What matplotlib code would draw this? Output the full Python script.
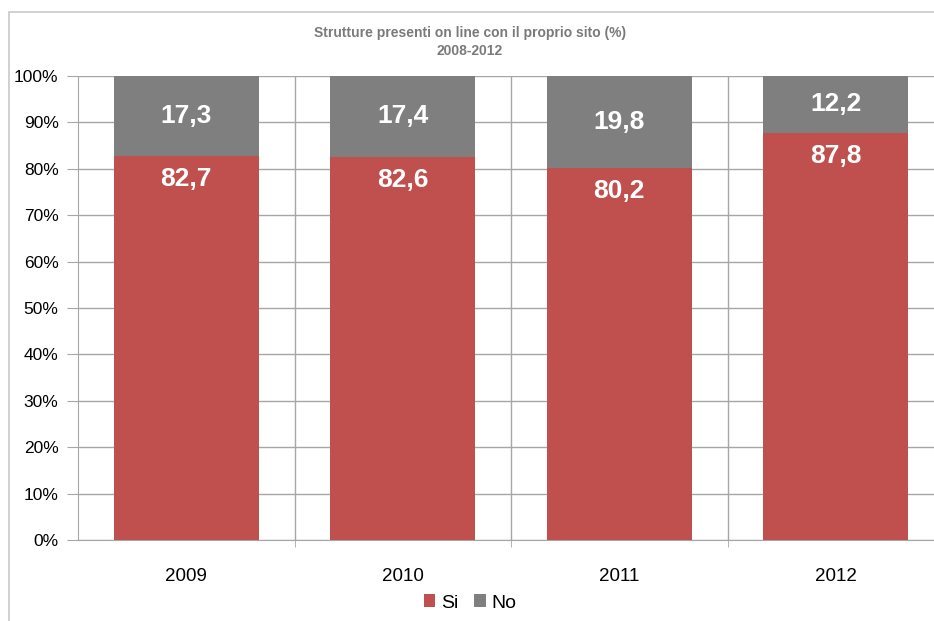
import numpy as np
import matplotlib
matplotlib.use('Agg')
import matplotlib.pyplot as plt
from matplotlib.patches import Rectangle
from matplotlib.ticker import MultipleLocator, FixedLocator, FuncFormatter

plt.rcParams['font.family'] = ['Liberation Sans Narrow', 'Liberation Sans', 'DejaVu Sans']

years = ['2009', '2010', '2011', '2012']
si = [82.7, 82.6, 80.2, 87.8]
no = [17.3, 17.4, 19.8, 12.2]
title = 'Strutture presenti on line con il proprio sito (%)\n2008-2012'

red = '#c0504d'
grey = '#7f7f7f'
gridc = '#a6a6a6'

fig = plt.figure(figsize=(9.34, 6.21), dpi=100)
# chart area border (cropped on right/bottom like the reference)
fig.add_artist(Rectangle((9/934, -0.1), 1.2, 1 - 12/621 + 0.1, transform=fig.transFigure,
                         fill=False, edgecolor='#c8c8c8', linewidth=1.2))

ax = fig.add_axes([78/934, 81/621, 866/934, 464/621])
x = np.arange(len(years))
w = 0.67
b1 = ax.bar(x, si, w, color=red, label='Si', zorder=3)
b2 = ax.bar(x, no, w, bottom=si, color=grey, label='No', zorder=3)

for i in range(len(years)):
    ax.annotate(f'{si[i]:.1f}'.replace('.', ','), (x[i], si[i]), xytext=(0, -23),
                textcoords='offset pixels', ha='center', va='center',
                color='white', fontsize=19, fontweight='bold', zorder=4)
    ax.text(x[i], si[i] + no[i] / 2, f'{no[i]:.1f}'.replace('.', ','),
            ha='center', va='center', color='white', fontsize=19,
            fontweight='bold', zorder=4)

ax.set_xlim(-0.5, 3.5)
ax.set_ylim(0, 100)
ax.yaxis.set_major_locator(MultipleLocator(10))
ax.yaxis.set_major_formatter(FuncFormatter(lambda v, p: f'{v:.0f}%'))
ax.set_xticks(x)
ax.set_xticklabels(years, fontsize=13.5)
ax.xaxis.set_minor_locator(FixedLocator([0.5, 1.5, 2.5]))
ax.tick_params(axis='x', which='major', length=0, pad=20)
ax.tick_params(axis='x', which='minor', length=5, color=gridc)
ax.tick_params(axis='y', length=8, color=gridc, labelsize=12.5, pad=6)
ax.grid(axis='y', which='major', color=gridc, linewidth=1, zorder=0)
ax.grid(axis='x', which='minor', color=gridc, linewidth=1, zorder=0)
for s in ['top', 'right']:
    ax.spines[s].set_visible(False)
for s in ['left', 'bottom']:
    ax.spines[s].set_color(gridc)

fig.text(470/934, 1 - 42/621, title, ha='center', va='center', fontsize=10,
         color='#7a7a7a', fontweight='bold', linespacing=1.4)

fig.legend(handles=[b1, b2], labels=['Si', 'No'], loc='center',
           bbox_to_anchor=(470/934, 1 - 603/621), ncol=2, frameon=False,
           fontsize=14, handlelength=0.6, handleheight=0.6, handletextpad=0.3,
           columnspacing=0.8)

fig.savefig('out.png', dpi=100)
